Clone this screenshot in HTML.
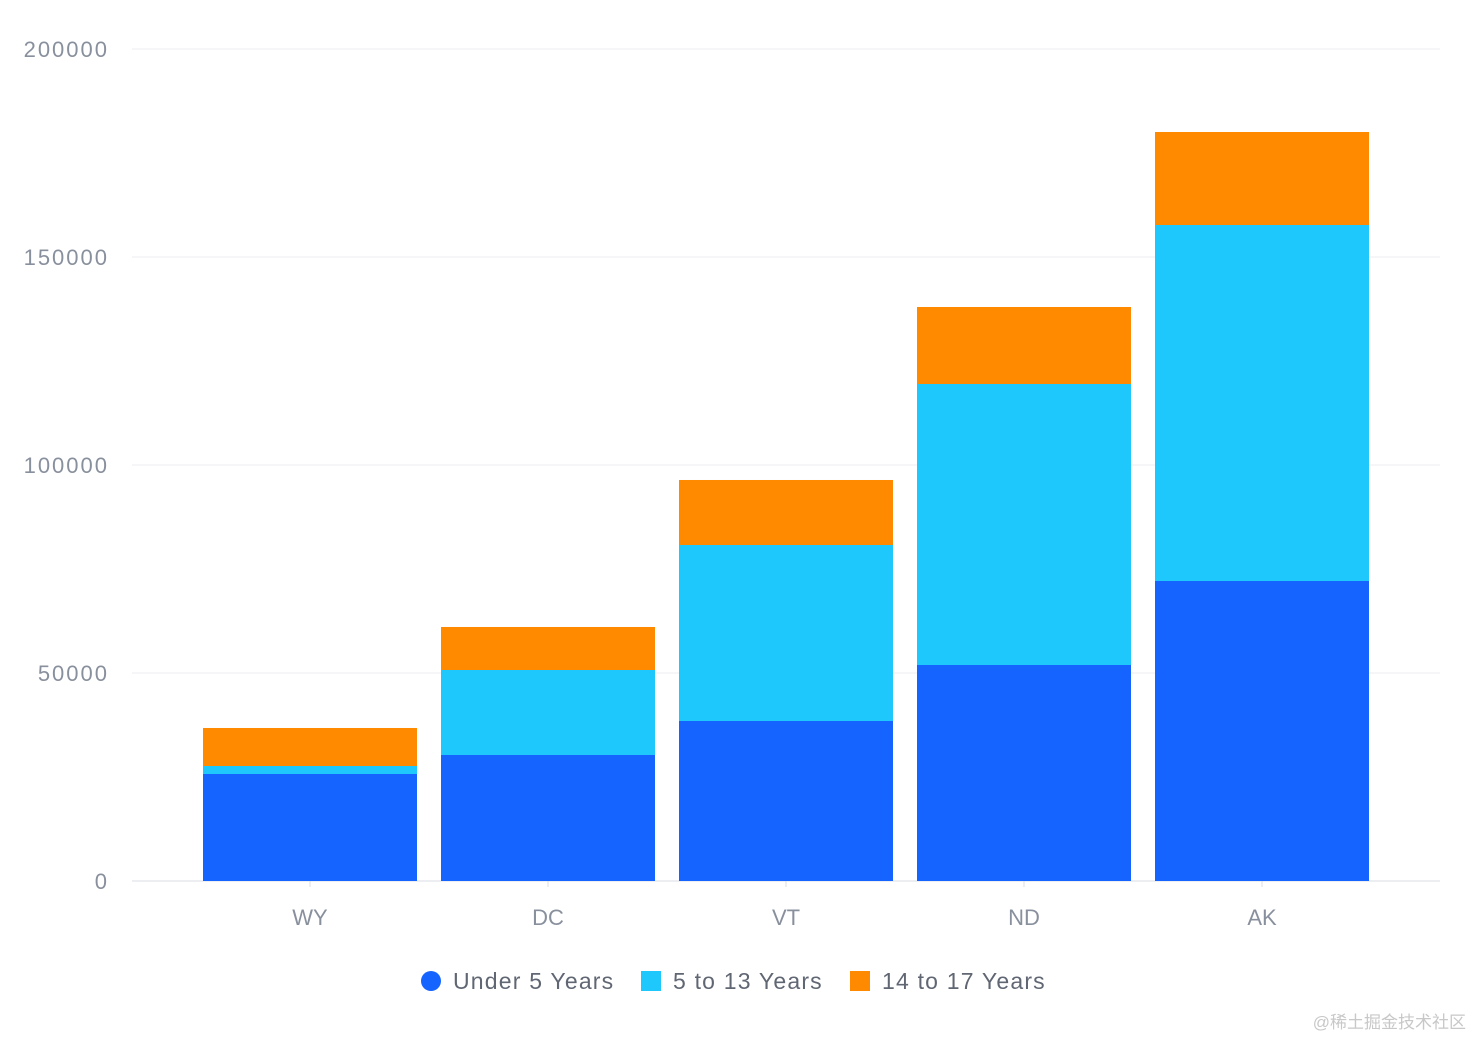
<!DOCTYPE html>
<html><head><meta charset="utf-8"><style>
body{margin:0;background:#fff;font-family:"Liberation Sans",sans-serif}
svg text{font-family:"Liberation Sans","Noto Sans CJK SC",sans-serif}
</style></head><body>
<svg id="chart" width="1474" height="1038" viewBox="0 0 1474 1038">
<g id="grid"></g><g id="bars"></g><g id="xaxis"></g><g id="legend"></g>
<text x="1466" y="1028" text-anchor="end" font-size="17" fill="#c8c8c8">@稀土掘金技术社区</text>
</svg>
<script>
const categories=["WY","DC","VT","ND","AK"];
const under5=[25723,30290,38462,51923,72115];
const age5to13=[1923,20433,42308,67548,85577];
const age14to17=[9135,10337,15625,18510,22356];
const yTicks=[0,50000,100000,150000,200000];
const seriesNames=["Under 5 Years","5 to 13 Years","14 to 17 Years"];
const colors=["#1664ff","#1ec8fc","#ff8a00"];
const NS="http://www.w3.org/2000/svg";
function y(v){return 881-v*832/200000;}
function x(i){return 310+238*i;}
const bw=214;
function mk(tag,attrs,parent,text){const e=document.createElementNS(NS,tag);for(const k in attrs)e.setAttribute(k,attrs[k]);if(text!==undefined)e.textContent=text;parent.appendChild(e);return e;}
const grid=document.getElementById('grid');
yTicks.forEach(t=>{
 const l=mk('line',{x1:132,x2:1440,y1:y(t),y2:y(t),stroke:t===0?'#d9dde4':'#eceef2','stroke-width':1},grid);
 
 
 const tx=mk('text',{x:109,y:y(t)+8,'text-anchor':'end','font-size':22,'letter-spacing':2,fill:'#89909d'},grid,String(t));
 
 
});
const bars=document.getElementById('bars');
const series=[under5,age5to13,age14to17];
categories.forEach((c,i)=>{
 let base=0;
 series.forEach((s,k)=>{
  const r=mk('rect',{x:x(i)-bw/2,y:y(base+s[i]),width:bw,height:y(base)-y(base+s[i]),fill:colors[k]},bars);
  
  
  base+=s[i];
 });
 const tk=mk('line',{x1:x(i),x2:x(i),y1:881,y2:887,stroke:'#d9dde4'},document.getElementById('xaxis'));
 
 
 const lb=mk('text',{x:x(i),y:925,'text-anchor':'middle','font-size':22,fill:'#89909d'},document.getElementById('xaxis'),c);
 
 
});
const lg=document.getElementById('legend');
const lx=[421,641,850];
seriesNames.forEach((n,k)=>{
 const g=mk('g',{},lg);
 
 
 if(k===0) mk('circle',{cx:lx[k]+10,cy:981,r:10,fill:colors[k]},g);
 else mk('rect',{x:lx[k],y:971,width:20,height:20,fill:colors[k]},g);
 mk('text',{x:lx[k]+32,y:989,'font-size':23,'letter-spacing':1.2,fill:'#606773'},g,n);
});
</script>
</body></html>
